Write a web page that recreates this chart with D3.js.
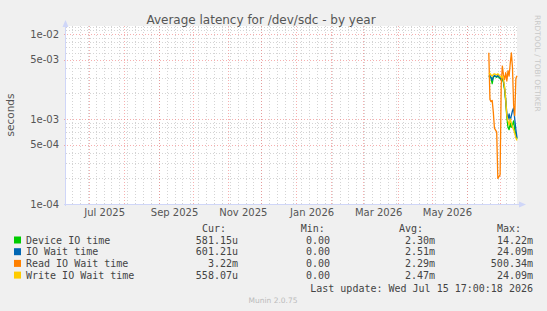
<!DOCTYPE html>
<html>
<head>
<meta charset="utf-8">
<title>Average latency for /dev/sdc - by year</title>
<script src="https://d3js.org/d3.v7.min.js"></script>
<style>
  body { margin: 0; background: #f0f0f0; }
  svg { display: block; }
  text { font-family: "DejaVu Sans", sans-serif; fill: #555; }
  .mono { font-family: "DejaVu Sans Mono", monospace; font-size: 10px; fill: #444; }
</style>
</head>
<body>
<script>
// --- data ---
const days = ["2026-06-20","2026-06-21","2026-06-22","2026-06-23","2026-06-24","2026-06-25",
  "2026-06-26","2026-06-27","2026-06-28","2026-06-29","2026-06-30","2026-07-01","2026-07-02",
  "2026-07-03","2026-07-04","2026-07-05","2026-07-06","2026-07-07","2026-07-08","2026-07-09",
  "2026-07-10","2026-07-11","2026-07-12","2026-07-13","2026-07-14","2026-07-15"];
const deviceIO = [3.1e-3,3.2e-3,3.0e-3,2.6e-3,3.1e-3,3.2e-3,3.15e-3,3.1e-3,3.2e-3,3.1e-3,3.0e-3,2.9e-3,3.0e-3,
  2.7e-3,2.2e-3,1.6e-3,1.05e-3,8.0e-4,7.5e-4,9.0e-4,8.0e-4,8.5e-4,9.5e-4,7.5e-4,6.5e-4,5.81e-4];
const ioWait = [3.2e-3,3.25e-3,3.1e-3,2.85e-3,3.15e-3,3.25e-3,3.2e-3,3.15e-3,3.25e-3,3.15e-3,3.05e-3,3.0e-3,3.1e-3,
  2.8e-3,2.3e-3,1.7e-3,1.15e-3,1.0e-3,1.15e-3,9.5e-4,1.1e-3,1.25e-3,1.35e-3,1.0e-3,7.5e-4,6.01e-4];
const readWait = [6.0e-3,1.7e-3,1.6e-3,1.65e-3,1.2e-3,7.8e-4,7.4e-4,7.0e-4,2.0e-4,2.1e-4,2.2e-4,2.5e-3,4.2e-3,
  3.3e-3,2.9e-3,3.5e-3,2.8e-3,3.7e-3,3.2e-3,4.5e-3,6.0e-3,4.0e-3,1.45e-3,1.1e-3,3.0e-3,3.22e-3];
const writeWait = [3.4e-3,3.45e-3,3.3e-3,3.2e-3,3.35e-3,3.4e-3,3.35e-3,3.3e-3,3.4e-3,3.3e-3,3.2e-3,3.1e-3,3.2e-3,
  2.9e-3,2.4e-3,1.7e-3,1.1e-3,9.5e-4,8.5e-4,1.0e-3,9.0e-4,8.0e-4,7.5e-4,6.8e-4,6.0e-4,5.58e-4];

const seriesNames = ["Device IO time","IO Wait time","Read IO Wait time","Write IO Wait time"];
const seriesColors = ["#00cc00","#0066b3","#ff8000","#ffcc00"];
const curVals = ["581.15u","601.21u","3.22m","558.07u"];
const minVals = ["0.00","0.00","0.00","0.00"];
const avgVals = ["2.30m","2.51m","2.29m","2.47m"];
const maxVals = ["14.22m","24.09m","500.34m","24.09m"];
const yTicks = [1e-4, 5e-4, 1e-3, 5e-3, 1e-2];

var width = 547, height = 311
var plot = { left: 66, right: 517, top: 26, bottom: 204 }

var svg = d3.select("body").append("svg")
  .attr("width", width).attr("height", height)
  .style("background", "#f0f0f0")

var parse = d3.utcParse("%Y-%m-%d %H:%M")
var tStart = parse("2025-06-10 17:00"), tEnd = parse("2026-07-15 17:00")

var x = d3.scaleUtc().domain([tStart, tEnd]).range([plot.left, plot.right])
var y = d3.scaleLog().domain([1e-4, 1e-2]).range([204, 34])

// canvas
svg.append("rect")
  .attr("x", plot.left).attr("y", plot.top)
  .attr("width", plot.right - plot.left).attr("height", plot.bottom - plot.top)
  .attr("fill", "#fff")

// grid: minor horizontal
var minorY = []
;[1e-4, 1e-3].forEach(function(dec){
  [2,3,4,6,7,8,9].forEach(function(m){ minorY.push(dec*m) })
})
minorY.push(1.1e-2, 1.2e-2)
var grid = svg.append("g")
var minorColor = "#d4d4d4", majorColor = "rgba(240,110,110,0.55)"
grid.selectAll(".gy").data(minorY.filter(function(v){ return y(v) > plot.top })).enter().append("line")
  .attr("x1", plot.left).attr("x2", plot.right)
  .attr("y1", function(d){ return Math.round(y(d)) + 0.5 })
  .attr("y2", function(d){ return Math.round(y(d)) + 0.5 })
  .attr("stroke", minorColor).attr("stroke-dasharray", "1,2")

// minor vertical weekly lines
var weeks = d3.utcMonday.range(tStart, tEnd)
grid.selectAll(".gx").data(weeks).enter().append("line")
  .attr("x1", function(d){ return Math.round(x(d)) + 0.5 })
  .attr("x2", function(d){ return Math.round(x(d)) + 0.5 })
  .attr("y1", plot.top).attr("y2", plot.bottom + 2)
  .attr("stroke", minorColor).attr("stroke-dasharray", "1,2")

// major lines
var months = d3.utcMonth.range(tStart, tEnd)
grid.selectAll(".mx").data(months).enter().append("line")
  .attr("x1", function(d){ return Math.round(x(d)) + 0.5 })
  .attr("x2", function(d){ return Math.round(x(d)) + 0.5 })
  .attr("y1", plot.top).attr("y2", plot.bottom + 2)
  .attr("stroke", majorColor).attr("stroke-dasharray", "1,2")
grid.selectAll(".my").data(yTicks.slice(1)).enter().append("line")
  .attr("x1", plot.left - 2).attr("x2", plot.right)
  .attr("y1", function(d){ return Math.round(y(d)) + 0.5 })
  .attr("y2", function(d){ return Math.round(y(d)) + 0.5 })
  .attr("stroke", majorColor).attr("stroke-dasharray", "1,2")

// y axis labels
svg.append("g").selectAll("text").data(yTicks).enter().append("text")
  .attr("x", 59).attr("y", function(d){ return y(d) + 3.5 })
  .attr("text-anchor", "end").attr("font-size", 10)
  .text(function(d){ return d3.format(".0e")(d).replace(/e([-+])(\d)$/, "e$10$2") })

// x axis labels (every two months, centred mid-month)
var labelMonths = months.filter(function(d){
  return d.getUTCMonth() % 2 === 0 && x(d3.utcDay.offset(d, 14)) + 25 < plot.right
})
svg.append("g").selectAll("text").data(labelMonths).enter().append("text")
  .attr("x", function(d){ return x(d3.utcDay.offset(d, 14)) })
  .attr("y", 216).attr("text-anchor", "middle").attr("font-size", 10)
  .text(function(d){ return d3.utcFormat("%b %Y")(d) })

// series
var line = d3.line()
  .x(function(d){ return x(d.t) })
  .y(function(d){ return y(d.v) })
var allSeries = [deviceIO, ioWait, readWait, writeWait]
var lines = svg.append("g")
allSeries.forEach(function(vals, i){
  var pts = vals.map(function(v, j){ return { t: parse(days[j] + " 17:00"), v: v } })
  lines.append("path").datum(pts)
    .attr("d", line)
    .attr("fill", "none")
    .attr("stroke", seriesColors[i])
    .attr("stroke-width", 1.3)
    .attr("stroke-linejoin", "round")
})

// axes with arrows
var axisColor = "#cfd6f8"
svg.append("line").attr("x1", plot.left - 0.5).attr("x2", plot.left - 0.5)
  .attr("y1", plot.bottom + 2).attr("y2", 24).attr("stroke", axisColor)
svg.append("path").attr("d", "M" + (plot.left - 3.5) + ",27 L" + (plot.left - 0.5) + ",20 L" + (plot.left + 2.5) + ",27 Z")
  .attr("fill", axisColor)
svg.append("line").attr("x1", plot.left - 2).attr("x2", 520)
  .attr("y1", plot.bottom + 0.5).attr("y2", plot.bottom + 0.5).attr("stroke", axisColor)
svg.append("path").attr("d", "M519," + (plot.bottom - 2.5) + " L526," + (plot.bottom + 0.5) + " L519," + (plot.bottom + 3.5) + " Z")
  .attr("fill", axisColor)

// title
svg.append("text").attr("x", 261).attr("y", 24)
  .attr("text-anchor", "middle").attr("font-size", 12).style("fill", "#555")
  .text("Average latency for /dev/sdc - by year")

// y label
svg.append("text").attr("transform", "translate(14,115) rotate(-90)")
  .attr("text-anchor", "middle").attr("font-size", 10.5)
  .text("seconds")

// side watermark
svg.append("text").attr("transform", "translate(535,15) rotate(90)")
  .attr("font-size", 7.5).style("fill", "#c8c8c8")
  .text("RRDTOOL / TOBI OETIKER")

// legend
var leg = svg.append("g")
leg.append("text").attr("class", "mono").attr("x", 202).attr("y", 231.5).text("Cur:")
leg.append("text").attr("class", "mono").attr("x", 300.7).attr("y", 231.5).text("Min:")
leg.append("text").attr("class", "mono").attr("x", 399).attr("y", 231.5).text("Avg:")
leg.append("text").attr("class", "mono").attr("x", 497).attr("y", 231.5).text("Max:")

seriesNames.forEach(function(name, i){
  var yy = 243.5 + i * 11.7
  leg.append("rect").attr("x", 14).attr("y", yy - 7).attr("width", 7).attr("height", 7)
    .attr("fill", seriesColors[i])
  leg.append("text").attr("class", "mono").attr("x", 26).attr("y", yy).text(name)
  leg.append("text").attr("class", "mono").attr("x", 238).attr("y", yy).attr("text-anchor", "end").text(curVals[i])
  leg.append("text").attr("class", "mono").attr("x", 330).attr("y", yy).attr("text-anchor", "end").text(minVals[i])
  leg.append("text").attr("class", "mono").attr("x", 435).attr("y", yy).attr("text-anchor", "end").text(avgVals[i])
  leg.append("text").attr("class", "mono").attr("x", 533).attr("y", yy).attr("text-anchor", "end").text(maxVals[i])
})
leg.append("text").attr("class", "mono").attr("x", 533).attr("y", 292)
  .attr("text-anchor", "end").text("Last update: Wed Jul 15 17:00:18 2026")

svg.append("text").attr("x", 273).attr("y", 303).attr("text-anchor", "middle")
  .attr("font-size", 7.5).style("fill", "#bbb").text("Munin 2.0.75")
</script>
</body>
</html>
